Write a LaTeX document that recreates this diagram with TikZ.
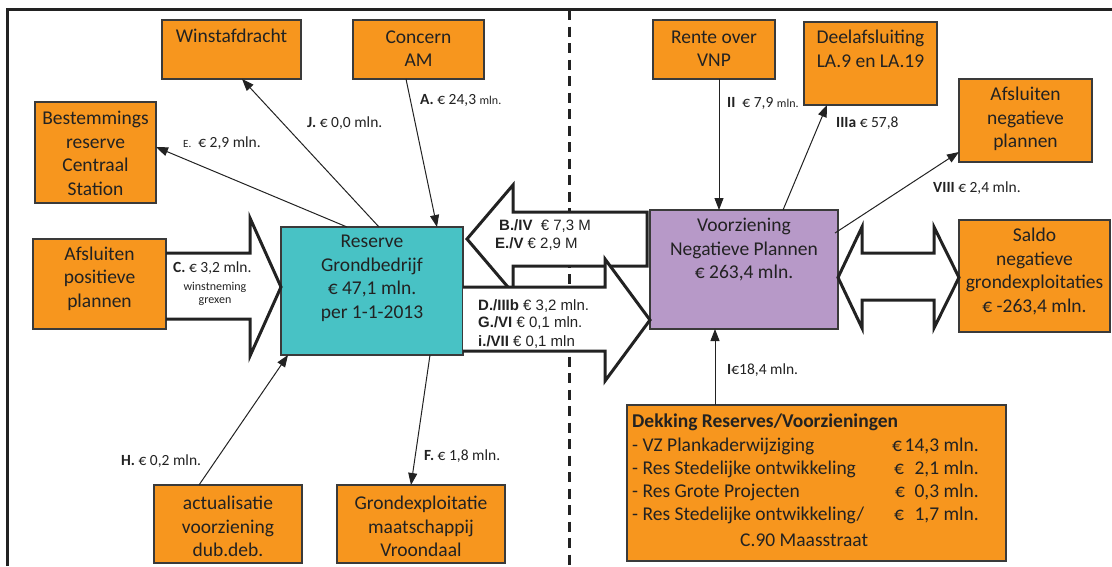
\documentclass[tikz,border=0pt]{standalone}
\usepackage{fontspec}
\setmainfont{Carlito}
\newfontfamily\arialf{Liberation Sans}
\usetikzlibrary{arrows.meta,calc}
\definecolor{orng}{HTML}{F7961E}
\definecolor{tealc}{HTML}{48C2C5}
\definecolor{lav}{HTML}{B799C8}
\definecolor{edgec}{HTML}{3A3A3A}
\definecolor{ink}{HTML}{222222}
\begin{document}
\begin{tikzpicture}[x=1pt,y=-1pt,
  box/.style={draw=edgec, line width=1.3pt, anchor=north west, inner sep=0pt, outer sep=0pt},
  obox/.style={box, fill=orng},
  big/.style={font=\fontsize{19.5}{23.5}\selectfont, text=ink, align=center, inner sep=0pt},
  dtxt/.style={font=\fontsize{19.5}{23.5}\selectfont, text=ink, anchor=west, inner sep=0pt},
  lbl/.style={font=\fontsize{15.5}{18}\selectfont, text=ink, anchor=west, inner sep=0pt},
  sml/.style={font=\fontsize{12}{14}\selectfont, text=ink, inner sep=0pt},
  alb/.style={font=\arialf\fontsize{15}{18}\selectfont, text=ink, anchor=west, inner sep=0pt},
  conn/.style={draw=ink, line width=1pt, -{Triangle[length=12pt,width=9pt]}},
  blk/.style={draw=ink, line width=3pt, fill=white, line join=miter},
]
\useasboundingbox (0,0) rectangle (1112,566);

% frame
\draw[ink, line width=3pt] (7,566) -- (7,9) -- (1112,9);

% dashed divider
\draw[ink, line width=3pt, dash pattern=on 10pt off 6.5pt] (569,10) -- (569,566);

% boxes
\node[obox, minimum width=139, minimum height=59] (win) at (162,20) {};
\node[obox, minimum width=131, minimum height=59] (con) at (353,20) {};
\node[obox, minimum width=121, minimum height=101] (best) at (35,102) {};
\node[obox, minimum width=133, minimum height=90] (afpos) at (33,239) {};
\node[box, fill=tealc, minimum width=182, minimum height=128] (res) at (281,227) {};
\node[obox, minimum width=148, minimum height=78] (act) at (154,485) {};
\node[obox, minimum width=168, minimum height=78] (gro) at (337,485) {};
\node[obox, minimum width=122, minimum height=59] (rente) at (653,20) {};
\node[obox, minimum width=133, minimum height=83] (deel) at (804,22) {};
\node[obox, minimum width=133, minimum height=83] (afneg) at (959,79) {};
\node[box, fill=lav, minimum width=188, minimum height=119] (voor) at (650,210) {};
\node[obox, minimum width=151, minimum height=112] (saldo) at (959,220) {};
\node[obox, minimum width=379, minimum height=156] (dek) at (627,405) {};

% box texts
\node[big] (wint) at (231.5,36) {Winstafdracht};
\node[big] (cont) at (418.5,48.5) {Concern\\AM};
\node[big] (bestt) at (95.5,153.5) {Bestemmings\\reserve\\Centraal\\Station};
\node[big] (afpost) at (99.5,278.5) {Afsluiten\\positieve\\plannen};
\node[big] (rest) at (372,278.5) {Reserve\\Grondbedrijf\\€ 47,1 mln.\\per 1-1-2013};
\node[big] (actt) at (228,526.5) {actualisatie\\voorziening\\dub.deb.};
\node[big] (grot) at (421,526.5) {Grondexploitatie\\maatschappij\\Vroondaal};
\node[big] (rentet) at (714,48.5) {Rente over\\VNP};
\node[big] (deelt) at (870.5,49) {Deelafsluiting\\LA.9 en LA.19};
\node[big] (afnegt) at (1025.5,119) {Afsluiten\\negatieve\\plannen};
\node[big] (voort) at (744,250) {Voorziening\\Negatieve Plannen\\€ 263,4 mln.};
\node[big] (saldot) at (1034.5,271.5) {Saldo\\negatieve\\grondexploitaties\\€ -263,4 mln.};

\node[dtxt] (dk0) at (632,422) {\bfseries Dekking Reserves/Voorzieningen};
\node[dtxt] (dk1) at (632,446) {- VZ Plankaderwijziging};
\node[dtxt] (dk2) at (632,469) {- Res Stedelijke ontwikkeling};
\node[dtxt] (dk3) at (632,492) {- Res Grote Projecten};
\node[dtxt] (dk4) at (632,515) {- Res Stedelijke ontwikkeling/};
\node[dtxt] (dk5) at (740,540) {C.90 Maasstraat};
\node[dtxt] (de1) at (892,446) {€};
\node[dtxt] (de2) at (894,469) {€};
\node[dtxt] (de3) at (895,492) {€};
\node[dtxt] (de4) at (894,515) {€};
\node[dtxt, anchor=east] (da1) at (979,446) {14,3 mln.};
\node[dtxt, anchor=east] (da2) at (979,469) {2,1 mln.};
\node[dtxt, anchor=east] (da3) at (979,492) {0,3 mln.};
\node[dtxt, anchor=east] (da4) at (979,515) {1,7 mln.};

% block arrows
\draw[ink, line width=3pt, line join=miter] (166,253) -- (250,253) -- (250,218) -- (281,287) -- (250,356) -- (250,319) -- (166,319);
\draw[blk] (647,212) -- (513,212) -- (513,185) -- (467,239) -- (513,293) -- (513,266) -- (647,266) -- cycle;
\fill[white] (463,287) -- (605,287) -- (605,259) -- (650,320) -- (605,381) -- (605,351) -- (463,351) -- cycle;
\draw[ink, line width=3pt, line join=miter] (463,287) -- (605,287) -- (605,259) -- (650,320) -- (605,381) -- (605,351) -- (463,351);
\draw[blk] (838,277.5) -- (862,227) -- (862,253) -- (934,253) -- (934,227) -- (959,277.5) -- (934,328) -- (934,300) -- (862,300) -- (862,328) -- cycle;

% connectors
\draw[conn] ($(res.north west)+(66,0)$) -- ($(best.north east)+(0,45)$);
\draw[conn] ($(res.north west)+(98,0)$) -- ($(win.south west)+(80,0)$);
\draw[conn] ($(con.south west)+(53,0)$) -- ($(res.north west)+(156,0)$);
\draw[conn] ($(act.north west)+(45,0)$) -- ($(res.south west)+(7,0)$);
\draw[conn] ($(res.south west)+(149,0)$) -- ($(gro.north west)+(74,0)$);
\draw[conn] ($(rente.south west)+(66,0)$) -- ($(voor.north west)+(69,0)$);
\draw[conn] ($(voor.north west)+(133,0)$) -- ($(deel.south west)+(23,0)$);
\draw[conn] ($(voor.north east)+(-3,23)$) -- ($(afneg.south west)+(0,-10)$);
\draw[conn] ($(dek.north west)+(88,0)$) -- ($(voor.south west)+(65,0)$);

% labels
\node[lbl] (le) at (183,143) {{\fontsize{11}{13}\selectfont E.}\ \ € 2,9 mln.};
\node[lbl] (lj) at (307,123) {\textbf{J.} € 0,0 mln.};
\node[lbl] (la) at (420,100) {\textbf{A.} € 24,3 {\fontsize{12}{14}\selectfont mln.}};
\node[lbl] (lc) at (173,268) {\textbf{C.} € 3,2 mln.};
\node[sml] (lcw) at (215,287) {winstneming};
\node[sml] (lcg) at (215,302) {grexen};
\node[lbl] (lh) at (121,461) {\textbf{H.} € 0,2 mln.};
\node[lbl] (lf) at (424,456) {\textbf{F.} € 1,8 mln.};
\node[lbl] (lii) at (727,103) {\textbf{II}\ \ € 7,9 {\fontsize{12}{14}\selectfont mln.}};
\node[lbl] (liii) at (836,123) {\textbf{IIIa} € 57,8};
\node[lbl] (lviii) at (933,188) {\textbf{VIII} € 2,4 mln.};
\node[lbl] (li) at (727,370) {\textbf{I}€18,4 mln.};
\node[alb] (lb) at (499,226) {\textbf{B./IV}\ \ € 7,3 M};
\node[alb] (lev) at (495,244) {\textbf{E./V} € 2,9 M};
\node[alb] (ld) at (478,306) {\textbf{D./IIIb} € 3,2 mln.};
\node[alb] (lg) at (478,323) {\textbf{G./VI} € 0,1 mln.};
\node[alb] (lvii) at (478,342) {\textbf{i./VII}\ € 0,1 mln};
\end{tikzpicture}
\end{document}
